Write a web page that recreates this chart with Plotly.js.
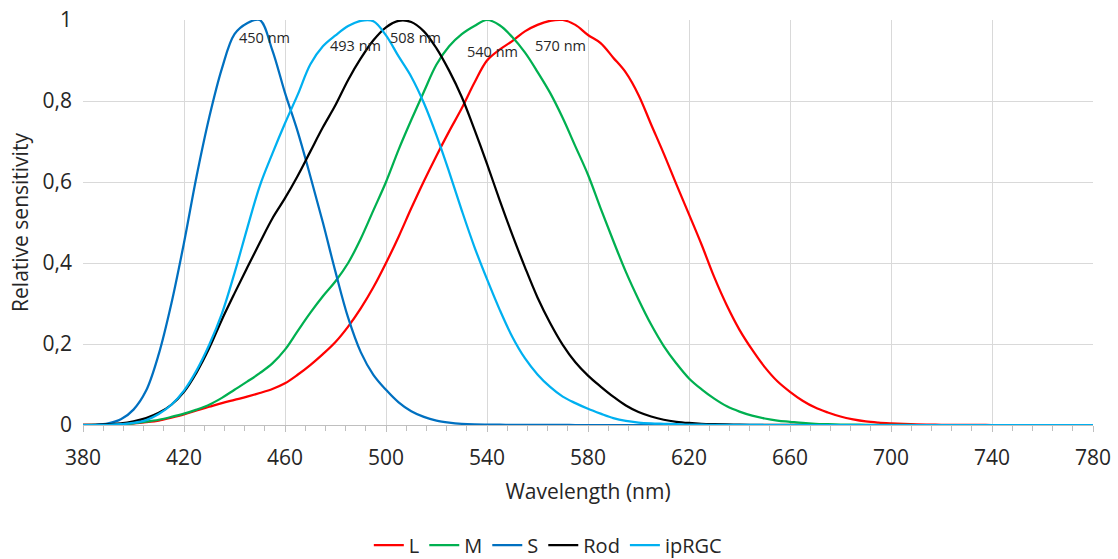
<!DOCTYPE html>
<html>
<head>
<meta charset="utf-8">
<script src="https://cdn.plot.ly/plotly-3.0.1.min.js"></script>
<style>html,body{margin:0;padding:0;background:#fff;}#chart{width:1118px;height:559px;}</style>
</head>
<body>
<div id="chart"></div>
<script>
const wavelength = [380,385,390,395,400,405,410,415,420,425,430,435,440,445,450,455,460,465,470,475,480,485,490,495,500,505,510,515,520,525,530,535,540,545,550,555,560,565,570,575,580,585,590,595,600,605,610,615,620,625,630,635,640,645,650,655,660,665,670,675,680,685,690,695,700,705,710,715,720,725,730,735,740,745,750,755,760,765,770,775,780];

const L = [0,0.0005,0.001,0.002,0.004,0.007,0.011,0.018,0.026,0.036,0.045,0.054,0.062,0.07,0.079,0.089,0.103,0.124,0.148,0.175,0.205,0.243,0.288,0.34,0.4,0.465,0.535,0.602,0.665,0.725,0.782,0.845,0.9,0.927,0.948,0.972,0.988,0.998,1.0,0.988,0.963,0.943,0.907,0.87,0.815,0.742,0.67,0.594,0.52,0.445,0.365,0.295,0.235,0.186,0.143,0.108,0.082,0.06,0.043,0.031,0.021,0.014,0.009,0.006,0.004,0.0025,0.0015,0.001,0.0006,0.0004,0.0002,0.0001,0,0,0,0,0,0,0,0,0];

const M = [0,0.0003,0.001,0.002,0.004,0.008,0.013,0.02,0.028,0.038,0.05,0.067,0.087,0.107,0.128,0.152,0.186,0.232,0.277,0.318,0.355,0.4,0.46,0.53,0.6,0.68,0.753,0.823,0.89,0.935,0.965,0.985,1.0,0.987,0.958,0.92,0.872,0.82,0.758,0.688,0.618,0.535,0.455,0.378,0.31,0.248,0.195,0.152,0.115,0.088,0.065,0.046,0.033,0.023,0.016,0.011,0.008,0.005,0.003,0.002,0.0012,0.0008,0.0005,0.0003,0.0002,0.0001,0,0,0,0,0,0,0,0,0,0,0,0,0,0,0];

const S = [0,0.0005,0.004,0.014,0.038,0.085,0.175,0.3,0.45,0.615,0.76,0.88,0.965,0.992,1.0,0.925,0.82,0.725,0.615,0.5,0.378,0.265,0.18,0.124,0.087,0.056,0.034,0.02,0.011,0.006,0.003,0.0015,0.001,0.0007,0.0005,0.0003,0.0002,0.0001,0.0001,0,0,0,0,0,0,0,0,0,0,0,0,0,0,0,0,0,0,0,0,0,0,0,0,0,0,0,0,0,0,0,0,0,0,0,0,0,0,0,0,0,0];

const Rod = [0,0.0005,0.002,0.004,0.009,0.017,0.03,0.05,0.082,0.13,0.19,0.26,0.325,0.388,0.45,0.51,0.56,0.615,0.675,0.735,0.79,0.852,0.905,0.95,0.982,0.998,0.995,0.972,0.93,0.875,0.81,0.73,0.645,0.555,0.47,0.39,0.315,0.252,0.198,0.155,0.122,0.095,0.07,0.048,0.032,0.021,0.013,0.008,0.005,0.003,0.002,0.0013,0.0008,0.0005,0.0003,0.0002,0.0001,0,0,0,0,0,0,0,0,0,0,0,0,0,0,0,0,0,0,0,0,0,0,0,0];

const ipRGC = [0,0,0.0005,0.002,0.005,0.012,0.027,0.05,0.085,0.135,0.198,0.275,0.375,0.485,0.59,0.67,0.745,0.815,0.89,0.935,0.962,0.985,0.998,0.997,0.962,0.91,0.86,0.795,0.715,0.625,0.53,0.44,0.36,0.285,0.218,0.165,0.125,0.094,0.07,0.054,0.04,0.028,0.017,0.01,0.006,0.004,0.003,0.002,0.001,0.0007,0.0005,0.0003,0.0002,0.0001,0,0,0,0,0,0,0,0,0,0,0,0,0,0,0,0,0,0,0,0,0,0,0,0,0,0,0];

const seriesNames = ["L","M","S","Rod","ipRGC"];
const seriesColors = ["#ff0000","#00b050","#0070c0","#000000","#00b0f0"];
const seriesData = [L, M, S, Rod, ipRGC];

const peakLabels = ["450 nm","493 nm","508 nm","540 nm","570 nm"];
const peakLabelX = [451.7,488.1,511.5,542,569.3];
const peakLabelY = [0.958,0.936,0.958,0.923,0.936];

const FONT = "Open Sans, Noto Sans, sans-serif";

const traces = seriesNames.map((n,i)=>({
  type:"scatter", mode:"lines", name:n, x:wavelength, y:seriesData[i],
  line:{color:seriesColors[i], width:2.25, shape:"spline", smoothing:1}
}));

const annotations = peakLabels.map((t,i)=>({
  x:peakLabelX[i], y:peakLabelY[i], xref:"x", yref:"y", text:t, showarrow:false,
  font:{family:FONT, size:14.5, color:"#262626"}, xanchor:"center", yanchor:"middle"
}));

const layout = {
  width:1118, height:559,
  margin:{l:83, r:25, t:20, b:134},
  paper_bgcolor:"#ffffff", plot_bgcolor:"#ffffff",
  separators:", ",
  font:{family:FONT, size:20, color:"#262626"},
  showlegend:true,
  legend:{orientation:"h", x:0.49, xanchor:"center", xref:"container", y:0.025, yref:"container", yanchor:"middle", font:{size:20}},
  xaxis:{
    range:[380,780], tick0:380, dtick:40,
    showgrid:true, gridcolor:"#d9d9d9", gridwidth:1,
    showline:true, linecolor:"#bfbfbf", linewidth:1,
    ticks:"outside", ticklen:6, tickcolor:"#bfbfbf",
    minor:{dtick:8, tick0:380, ticks:"outside", ticklen:5, tickcolor:"#bfbfbf", showgrid:false},
    zeroline:false, tickfont:{size:21}, ticklabelstandoff:8,
    title:{text:"Wavelength (nm)", font:{size:21}, standoff:14}
  },
  yaxis:{
    range:[0,1], tick0:0, dtick:0.2,
    showgrid:true, gridcolor:"#d9d9d9", gridwidth:1,
    showline:false, zeroline:false, ticks:"",
    tickfont:{size:21}, ticklabelstandoff:10,
    title:{text:"Relative sensitivity", font:{size:21}, standoff:8}
  },
  annotations:annotations
};

Plotly.newPlot("chart", traces, layout, {displayModeBar:false, staticPlot:true});
</script>
</body>
</html>
